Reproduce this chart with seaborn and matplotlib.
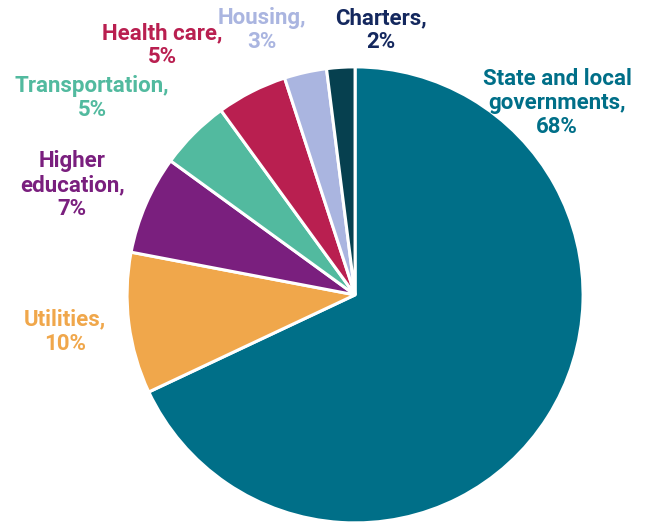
import matplotlib
matplotlib.use("Agg")
import matplotlib.pyplot as plt
import seaborn as sns

# Share of issuance by sector
sectors = ["State and local\ngovernments", "Utilities", "Higher\neducation",
           "Transportation", "Health care", "Housing", "Charters"]
shares = [68, 10, 7, 5, 5, 3, 2]
colors = ["#006F88", "#F0A74B", "#7A1F7E", "#52BA9F", "#B91F50", "#AAB5E0", "#06404F"]
label_colors = ["#006F88", "#F0A74B", "#7A1F7E", "#52BA9F", "#B91F50", "#AAB5E0", "#14285E"]

# Label anchor points in pie-radius units
label_x = [0.886, -1.272, -1.241, -1.154, -0.846, -0.408, 0.114]
label_y = [0.842, -0.162, 0.482, 0.864, 1.096, 1.162, 1.162]

sns.set_theme(style="white")
plt.rcParams["font.family"] = ["Roboto", "DejaVu Sans"]

fig = plt.figure(figsize=(6.45, 5.25), dpi=100)
ax = fig.add_axes([0.197, 0.0038, 0.707, 0.869])
ax.pie(shares, colors=colors, startangle=90, counterclock=False, radius=1.0,
       wedgeprops=dict(edgecolor="white", linewidth=2.2))
ax.set_xlim(-1, 1)
ax.set_ylim(-1, 1)
ax.set_aspect("equal")
ax.axis("off")

for name, val, x, y, c in zip(sectors, shares, label_x, label_y, label_colors):
    ax.text(x, y, f"{name},\n{val}%", ha="center", va="center", color=c,
            fontsize=16, fontweight="bold", linespacing=1.12, clip_on=False)

fig.savefig("out.png", dpi=100)
